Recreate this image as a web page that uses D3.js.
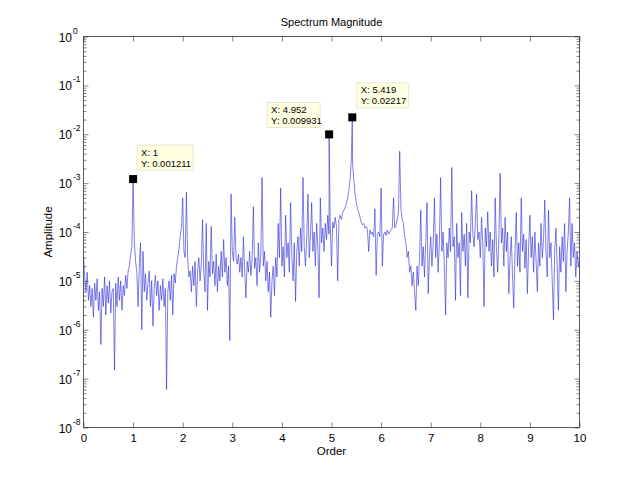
<!DOCTYPE html>
<html><head><meta charset="utf-8">
<script src="https://cdn.jsdelivr.net/npm/d3@7"></script>
<style>
body{margin:0;background:#fff}
text{font-family:"Liberation Sans",Arial,Helvetica,sans-serif;fill:#000}
</style>
</head><body>
<svg id="chart" width="640" height="480"></svg>
<script>
// ---------------- data ----------------
const chartTitle = "Spectrum Magnitude";
const xLabel = "Order";
const yLabel = "Amplitude";
const orderStep = 0.025;           // spacing of the spectrum samples (orders 0 .. 10)
const amplitude = [
  3.2e-5,1.2e-5,6e-6,1.5e-5,4e-6,8e-6,3e-6,7e-6,
  1.8e-6,9e-6,4e-6,1.1e-5,2.5e-6,6e-6,5e-7,7e-6,
  3e-6,1.2e-5,2e-6,8e-6,3.5e-6,1e-5,2.2e-6,6e-6,
  7e-6,1.5e-7,9e-6,3e-6,1.2e-5,4e-6,1e-5,2.5e-6,
  8e-6,5e-6,1.3e-5,7e-6,1.6e-5,2e-5,3.5e-5,5e-5,
  1.211e-3,6e-5,2.5e-5,1.5e-5,3e-6,2e-5,6e-5,1e-6,
  4e-5,6e-6,1.4e-5,4e-6,9e-6,1.6e-5,3e-6,1e-5,
  1.2e-6,7e-6,1.3e-5,5e-6,1e-5,2.5e-6,8e-6,4e-6,
  1.1e-5,3e-6,7e-6,6e-8,6e-6,1e-5,4e-6,1.3e-5,
  2e-6,1.4e-5,9e-6,2e-5,3e-5,4.5e-5,8e-5,1.2e-4,
  5e-4,4e-5,3e-5,6.5e-4,3e-5,1.2e-5,1.6e-5,6e-6,
  2e-5,8e-6,2.5e-5,3e-6,1.5e-5,3e-5,1e-5,2.2e-5,
  1.8e-4,1.5e-5,6e-6,1.5e-4,2.5e-6,2.5e-5,1.2e-5,1.3e-4,
  1.4e-5,2.5e-5,8e-6,3.5e-5,6e-6,2e-5,1e-5,4e-5,
  1.2e-5,7e-5,1.5e-5,3e-5,8e-6,2e-5,6e-7,6e-4,
  4e-5,2.5e-5,2e-4,3e-5,2.2e-5,3.5e-5,1.5e-5,3e-5,
  1.2e-5,8e-5,1.5e-5,4.5e-6,2.5e-5,1.5e-5,4e-5,1.3e-5,
  2.8e-5,3.3e-4,1.8e-5,3e-5,8e-6,6e-5,1.5e-5,3.5e-5,
  1.3e-3,2e-5,4e-5,1e-5,2.5e-5,6e-6,1.5e-5,1.8e-6,
  1e-5,2e-5,5e-6,3e-5,1.2e-5,1.5e-4,3e-5,8e-4,
  2e-5,5e-5,1.2e-5,2.2e-4,3e-5,6e-5,1.5e-5,4e-4,
  3.5e-5,1e-5,6e-5,3.8e-6,4e-5,8e-5,2e-5,1.2e-4,
  4e-5,1.3e-3,5e-5,2e-5,7e-5,6e-4,3e-5,8e-5,
  4e-4,4e-5,1e-4,2e-5,1.5e-4,5e-5,4.5e-6,5e-4,
  6e-5,1.2e-4,4e-5,1.5e-4,7e-5,2.2e-4,9e-5,1.4e-4,
  2e-5,1.6e-4,1.2e-4,2e-4,1.3e-4,1e-5,1.8e-4,2.2e-4,
  1.8e-4,2.5e-4,2.8e-4,3.2e-4,3.8e-4,5e-4,7e-4,1.2e-3,
  3e-3,2.5e-3,1.2e-3,6e-4,4e-4,3e-4,2.5e-4,2e-4,
  1.6e-4,1.4e-4,1.5e-4,1.2e-4,1.3e-4,1.1e-4,4e-5,1.1e-4,
  9e-5,1e-4,8e-5,3e-4,1.3e-5,9e-5,1e-4,8e-5,
  8e-4,2e-5,9e-5,1e-4,8.5e-5,1.1e-4,9e-5,1e-4,
  1.1e-4,1.2e-4,5e-4,1.2e-4,1.4e-4,1.8e-4,2.5e-4,4.5e-3,
  3e-4,1.8e-4,1.5e-4,8e-5,6e-5,3e-5,4e-5,1.5e-5,
  2e-5,8e-6,1.5e-5,6e-6,2.5e-6,2e-5,8e-6,3e-5,
  2.8e-4,2e-5,5e-5,1.2e-5,6e-5,4e-4,5.5e-6,3e-5,
  8e-5,2e-5,6e-5,5e-4,3e-5,9e-5,1.5e-5,6e-5,
  1.3e-3,4e-5,1e-4,2e-5,2e-6,6e-5,3e-5,1.2e-4,
  4e-5,2.1e-3,5e-5,8e-5,4e-6,1.5e-4,3e-5,6e-5,
  5e-6,2.5e-4,4e-5,9e-5,2e-5,1.5e-4,4.5e-6,1e-4,
  6e-5,7e-4,9e-5,5e-5,1.4e-4,6e-4,7e-5,1e-4,
  3e-5,2e-4,6e-5,3e-6,1.2e-4,5e-5,2.6e-4,4e-5,
  1e-4,2e-5,7e-5,1.2e-5,5e-4,5e-5,1.5e-5,8e-5,
  1.6e-3,6e-5,1.2e-4,2e-5,2e-4,4e-5,1e-4,5.5e-6,
  3e-5,8e-5,1.2e-5,2.8e-6,4e-5,2.5e-4,2e-5,6e-5,
  1.5e-5,5e-4,4e-5,9e-5,1.8e-5,7e-5,5.5e-6,5e-5,
  2.2e-4,3e-5,8e-5,1.5e-5,1e-4,2.5e-5,6e-6,6e-5,
  2e-5,1.5e-4,3e-5,7e-5,4.5e-4,4e-5,1.2e-5,2.8e-4,
  3e-5,6e-5,1e-5,1.6e-6,4e-5,1.2e-4,2e-5,2.5e-6,
  5e-5,1.5e-5,8e-5,2.5e-5,1.5e-4,6e-6,4e-5,1e-4,
  5e-4,2e-5,1.5e-4,3e-5,6e-5,1.2e-5,4e-5,2e-5,
  3e-5
];
const orders = amplitude.map((_, i) => +(i * orderStep).toFixed(3));

// data tips
const tipOrders = [1, 4.952, 5.419];
const tipValues = [0.001211, 0.009931, 0.02217];
const tipTextX  = ["X: 1", "X: 4.952", "X: 5.419"];
const tipTextY  = ["Y: 0.001211", "Y: 0.009931", "Y: 0.02217"];

const xTickValues = [0,1,2,3,4,5,6,7,8,9,10];
const yDecadeExponents = [0,-1,-2,-3,-4,-5,-6,-7,-8];

// ---------------- layout ----------------
const L = 83.5, R = 579.5, T = 36.5, B = 427.5;
const svg = d3.select("#chart");
const x = d3.scaleLinear().domain([0, 10]).range([L, R]);
const y = d3.scaleLog().domain([1e-8, 1]).range([B, T]);

// series (spectrum samples + data-tip samples, sorted by order)
const series = orders.map((o, i) => ({o, v: amplitude[i]}))
  .filter(d => !tipOrders.includes(d.o))
  .concat(tipOrders.map((o, i) => ({o, v: tipValues[i]})))
  .sort((a, b) => a.o - b.o);

svg.append("defs").append("clipPath").attr("id", "clip")
  .append("rect").attr("x", L).attr("y", T).attr("width", R - L).attr("height", B - T);

svg.append("rect").attr("x", L).attr("y", T).attr("width", R - L).attr("height", B - T)
  .attr("fill", "#fff");

svg.append("path")
  .datum(series)
  .attr("clip-path", "url(#clip)")
  .attr("fill", "none")
  .attr("stroke", "#2a2ad8")
  .attr("stroke-width", 0.6)
  .attr("stroke-linejoin", "round")
  .attr("d", d3.line().x(d => x(d.o)).y(d => y(d.v)));

// axes (inward ticks, MATLAB style)
const axisColor = "#333";
function styleAxis(g) {
  g.select(".domain").remove();
  g.selectAll(".tick line").attr("stroke", axisColor).attr("stroke-width", 0.6);
}
svg.append("g").attr("transform", `translate(0,${B})`)
  .call(d3.axisBottom(x).tickValues(xTickValues).tickSizeInner(-5).tickSizeOuter(0)
        .tickPadding(6).tickFormat(d3.format("d")))
  .call(styleAxis)
  .call(g => g.selectAll("text").attr("font-size", 11.5).style("font-family", "Liberation Sans, Arial, sans-serif").attr("fill", "#000"));
svg.append("g").attr("transform", `translate(0,${T})`)
  .call(d3.axisTop(x).tickValues(xTickValues).tickSizeInner(-5).tickSizeOuter(0).tickFormat(""))
  .call(styleAxis);

const decades = yDecadeExponents.map(e => Math.pow(10, e));
const minors = [];
yDecadeExponents.slice(1).forEach(e => { for (let m = 2; m <= 9; m++) minors.push(m * Math.pow(10, e)); });

svg.append("g").attr("transform", `translate(${L},0)`)
  .call(d3.axisLeft(y).tickValues(decades).tickSizeInner(-5).tickSizeOuter(0).tickFormat(""))
  .call(styleAxis);
svg.append("g").attr("transform", `translate(${L},0)`)
  .call(d3.axisLeft(y).tickValues(minors).tickSizeInner(-3).tickSizeOuter(0).tickFormat(""))
  .call(styleAxis);
svg.append("g").attr("transform", `translate(${R},0)`)
  .call(d3.axisRight(y).tickValues(decades).tickSizeInner(-5).tickSizeOuter(0).tickFormat(""))
  .call(styleAxis);
svg.append("g").attr("transform", `translate(${R},0)`)
  .call(d3.axisRight(y).tickValues(minors).tickSizeInner(-3).tickSizeOuter(0).tickFormat(""))
  .call(styleAxis);

// y tick labels 10^n
const yl = svg.append("g");
yDecadeExponents.forEach(e => {
  const yy = y(Math.pow(10, e));
  yl.append("text").attr("x", 72).attr("y", yy + 5).attr("text-anchor", "end")
    .attr("font-size", 12).text("10");
  yl.append("text").attr("x", 73).attr("y", yy - 3).attr("text-anchor", "start")
    .attr("font-size", 8.5).text(String(e));
});

// frame
svg.append("rect").attr("x", L).attr("y", T).attr("width", R - L).attr("height", B - T)
  .attr("fill", "none").attr("stroke", axisColor).attr("stroke-width", 0.8);

// titles
svg.append("text").attr("x", (L + R) / 2).attr("y", 26).attr("text-anchor", "middle")
  .attr("font-size", 11).text(chartTitle);
svg.append("text").attr("x", (L + R) / 2).attr("y", 455).attr("text-anchor", "middle")
  .attr("font-size", 11.5).text(xLabel);
svg.append("text").attr("transform", `translate(52,${(T + B) / 2}) rotate(-90)`)
  .attr("text-anchor", "middle").attr("font-size", 11.5).text(yLabel);

// data tips
const tipBoxOffset = [[4, -34], [-62, -32], [4.5, -34.5]]; // box top-left relative to marker
const tipBoxW = [56, 53, 52];
tipOrders.forEach((o, i) => {
  const px = x(o), py = y(tipValues[i]);
  const bx = px + tipBoxOffset[i][0], by = py + tipBoxOffset[i][1];
  const g = svg.append("g");
  g.append("rect").attr("x", bx).attr("y", by).attr("width", tipBoxW[i]).attr("height", 25)
    .attr("fill", "#ffffe1").attr("stroke", "#e4e4cc").attr("stroke-width", 0.8);
  g.append("text").attr("x", bx + 4).attr("y", by + 10.5).attr("font-size", 9.5).text(tipTextX[i]);
  g.append("text").attr("x", bx + 4).attr("y", by + 21.5).attr("font-size", 9.5).text(tipTextY[i]);
  g.append("rect").attr("x", px - 4).attr("y", py - 4).attr("width", 8).attr("height", 8)
    .attr("fill", "#000");
});
</script>
</body></html>
